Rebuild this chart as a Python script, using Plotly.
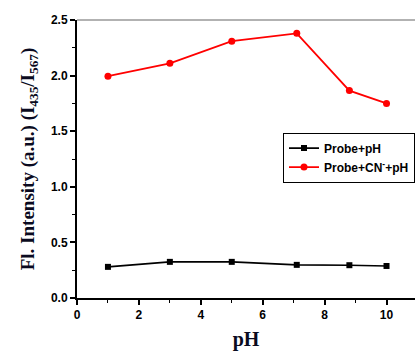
import plotly.graph_objects as go

ph_values = [1, 3, 5, 7.1, 8.8, 10]
probe_ph = [0.28, 0.325, 0.325, 0.298, 0.295, 0.288]
probe_cn_ph = [1.995, 2.11, 2.31, 2.38, 1.865, 1.75]
series_names = ["Probe+pH", "Probe+CN<sup>-</sup>+pH"]

fig = go.Figure()
fig.add_trace(go.Scatter(
    x=ph_values, y=probe_ph, name=series_names[0], mode="lines+markers",
    line=dict(color="black", width=1.6),
    marker=dict(symbol="square", size=6, color="black")))
fig.add_trace(go.Scatter(
    x=ph_values, y=probe_cn_ph, name=series_names[1], mode="lines+markers",
    line=dict(color="#ff0000", width=1.8),
    marker=dict(symbol="circle", size=7, color="#ff0000")))

tickfont = dict(family="Liberation Sans", size=12, color="black", weight="bold")
fig.update_layout(
    width=415, height=354,
    margin=dict(l=77, r=0, t=20, b=56),
    paper_bgcolor="white", plot_bgcolor="white",
    showlegend=True,
    legend=dict(x=0.61, y=0.595, xanchor="left", yanchor="top",
                bordercolor="black", borderwidth=1, bgcolor="white",
                font=dict(family="Liberation Sans", size=12, color="black", weight="bold"),
                itemwidth=30),
    xaxis=dict(range=[0, 10.92], tickvals=[0, 2, 4, 6, 8, 10],
               showline=True, linecolor="black", linewidth=2,
               ticks="outside", ticklen=5, tickwidth=1.5, tickcolor="black",
               minor=dict(ticks="outside", ticklen=3, tickwidth=1, tickcolor="black", dtick=1),
               showgrid=False, zeroline=False, tickfont=tickfont,
               title=dict(text="pH", font=dict(family="Liberation Serif", size=20, color="#0a0a20", weight="bold"), standoff=11)),
    yaxis=dict(range=[0, 2.5], tickvals=[0, 0.5, 1.0, 1.5, 2.0, 2.5], tickformat=".1f",
               showline=True, linecolor="black", linewidth=2,
               ticks="outside", ticklen=5, tickwidth=1.5, tickcolor="black",
               minor=dict(ticks="outside", ticklen=3, tickwidth=1, tickcolor="black", dtick=0.25),
               showgrid=False, zeroline=False, tickfont=tickfont,
               title=dict(text="Fl. Intensity (a.u.) (I<sub>435</sub>/I<sub>567</sub>)",
                          font=dict(family="Liberation Serif", size=19, color="#0a0a20", weight="bold"), standoff=11)),
)
fig.add_shape(type="line", xref="paper", yref="paper", x0=0, x1=1, y0=1, y1=1,
              line=dict(color="#999999", width=1.5))
fig.write_html("out.html", config={"displayModeBar": False},
               post_script="document.body.style.margin='0';document.body.style.overflow='hidden';")
